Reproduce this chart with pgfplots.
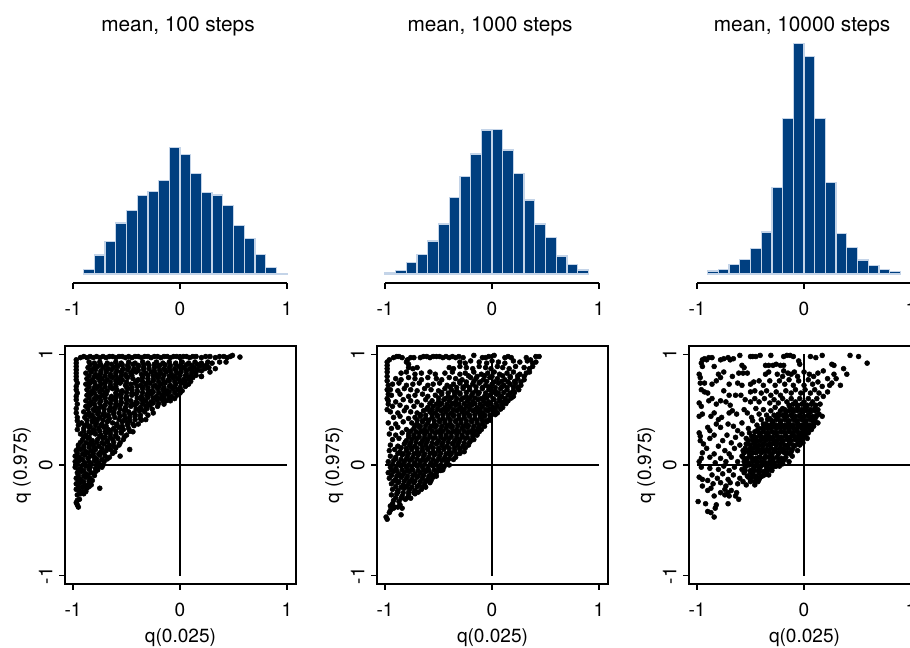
\documentclass[border=0pt]{standalone}
\usepackage{fontspec}
\setmainfont{TeX Gyre Heros}
\usepackage{pgfplots}
\pgfplotsset{compat=1.18}
\definecolor{barblue}{HTML}{003F80}
\definecolor{baredge}{HTML}{C4D4E8}
\pgfplotsset{
 hist/.style={scale only axis,width=160.5pt,height=189.75pt,anchor=south west,
  xmin=-1,xmax=1,ymin=-9,ymax=244,clip=false,
  axis y line=none,axis x line*=bottom,axis line style={line width=1.1pt,-},
  xtick={-1,0,1},xticklabels={-1,0,1},
  tick style={black,line width=1.1pt},tick align=outside,major tick length=4.5pt,
  xticklabel style={anchor=base,yshift=-20pt,font=\fontsize{14.3}{16}\selectfont},
  title style={at={(axis description cs:0.5,1)},anchor=base,yshift=-7pt,xshift=-1.5pt,font=\fontsize{15.6}{18}\selectfont},
 },
 bars/.style={ybar interval,fill=barblue,draw=baredge,line width=1pt},
 scat/.style={scale only axis,width=173.25pt,height=178.5pt,anchor=south west,
  xmin=-1.075,xmax=1.084,ymin=-1.075,ymax=1.075,clip=true,
  axis line style={line width=1.1pt},
  xtick={-1,0,1},xticklabels={-1,0,1},ytick={-1,0,1},yticklabels={-1,0,1},
  tick style={black,line width=1.1pt},tick align=outside,major tick length=4.5pt,
  xtick pos=bottom,ytick pos=left,
  xticklabel style={anchor=base,yshift=-20pt,font=\fontsize{14.3}{16}\selectfont},
  yticklabel style={rotate=90,anchor=base,yshift=5pt,font=\fontsize{14.3}{16}\selectfont},
  xlabel={q(0.025)},ylabel={q (0.975)},
  xlabel style={at={(axis description cs:0.5,0)},anchor=base,yshift=-44.25pt,font=\fontsize{14.3}{16}\selectfont},
  ylabel style={at={(axis description cs:0,0.5)},rotate=0,anchor=base,yshift=28.5pt,font=\fontsize{14.3}{16}\selectfont},
 },
 dots/.style={only marks,mark=*,mark size=1.85pt,mark options={fill=black,draw=none},black},
 cross/.style={black,line width=.9pt},
}
\begin{document}
\begin{tikzpicture}
\path[use as bounding box] (0,0) rectangle (682.5pt,486pt);
\begin{axis}[hist,at={(54.75pt,273.75pt)},title={mean, 100 steps}]
\addplot[bars] coordinates {(-.9,4.7)(-.8,19)(-.7,32.7)(-.6,51)(-.5,63.3)(-.4,78.3)(-.3,82.3)(-.2,93.3)(-.1,126.7)(0,119.3)(.1,100.7)(.2,81.7)(.3,79)(.4,68.7)(.5,48.7)(.6,35.3)(.7,19.3)(.8,6.7)(.9,.7)(1,.7)};
\end{axis}
\begin{axis}[hist,at={(288.75pt,273.75pt)},title={mean, 1000 steps}]
\addplot[bars] coordinates {(-1,1)(-.9,3.7)(-.8,11.7)(-.7,19.7)(-.6,33)(-.5,50)(-.4,76.7)(-.3,97.3)(-.2,120)(-.1,144)(0,144.3)(.1,124)(.2,100.7)(.3,74)(.4,50)(.5,36.7)(.6,18)(.7,9.7)(.8,4)(.9,4)};
\end{axis}
\begin{axis}[hist,at={(522.75pt,273.75pt)},title={mean, 10000 steps}]
\addplot[bars] coordinates {(-.9,3)(-.8,4.7)(-.7,9.7)(-.6,14.7)(-.5,25.3)(-.4,42)(-.3,86.3)(-.2,155.3)(-.1,230.3)(0,217.3)(.1,155.3)(.2,91.7)(.3,40.7)(.4,26.7)(.5,14)(.6,8.7)(.7,4.7)(.8,2.7)(.9,2.7)};
\end{axis}
\begin{axis}[scat,at={(48.75pt,48pt)}]
\addplot[cross] coordinates {(-1,0)(1,0)};
\addplot[cross] coordinates {(0,-1)(0,1)};
\addplot[dots] coordinates {
(-.93,.97)(-.9,.98)(-.87,.97)(-.84,.98)(-.81,.97)(-.78,.98)(-.75,.97)(-.72,.98)(-.69,.97)(-.66,.98)(-.63,.98)(-.6,.97)(-.57,.98)(-.54,.98)(-.51,.97)(-.48,.98)(-.45,.97)(-.42,.98)(-.39,.98)(-.36,.97)(-.33,.98)(-.3,.98)(-.27,.97)(-.24,.98)(-.21,.98)(-.18,.97)(-.15,.98)(-.12,.98)(-.09,.97)(-.06,.98)(-.03,.98)(0,.97)(.03,.98)(.06,.98)(.09,.97)(.12,.98)(.15,.98)(.2,.97)(.24,.98)(.28,.98)(.33,.97)(.37,.98)(.41,.98)(.44,.97)(.47,.98)(.49,.99)(.56,.975)
(-.97,.95)(-.97,.92)(-.97,.89)(-.97,.86)(-.97,.83)(-.97,.8)(-.97,.77)(-.96,.74)(-.97,.71)(-.97,.68)(-.96,.65)(-.97,.62)(-.97,.59)(-.96,.55)(-.97,.51)(-.97,.47)(-.96,.43)(-.96,.4)(-.95,.36)(-.96,.32)
(-.85,.93)(-.8,.92)(-.75,.93)(-.68,.92)(-.6,.93)(-.55,.92)(-.48,.93)(-.42,.92)(-.35,.93)(-.3,.92)(-.22,.93)(-.16,.92)(-.1,.93)(-.04,.92)(.02,.93)(.08,.92)(.14,.93)(.2,.92)(.26,.93)(.3,.92)(.37,.93)(.43,.93)
(-.86,.88)(-.81,.87)(-.77,.89)(-.72,.88)(-.67,.87)(-.62,.88)(-.58,.89)(-.53,.87)(-.48,.88)(-.43,.87)(-.39,.89)(-.34,.88)(-.29,.87)(-.24,.88)(-.2,.89)(-.15,.87)(-.1,.88)(-.05,.87)(-.01,.89)(.04,.88)(.09,.87)(.13,.88)(.18,.89)(.23,.87)(.27,.88)
(-.88,.83)(-.83,.84)(-.79,.82)(-.74,.83)(-.69,.84)(-.65,.82)(-.6,.83)(-.55,.84)(-.51,.82)(-.46,.83)(-.41,.84)(-.36,.82)(-.32,.83)(-.27,.84)(-.22,.82)(-.18,.83)(-.13,.84)(-.08,.82)(-.03,.83)(.01,.84)(.06,.82)(.11,.83)(.15,.84)(.2,.8)
(-.87,.78)(-.82,.77)(-.77,.79)(-.73,.78)(-.68,.77)(-.63,.79)(-.58,.78)(-.54,.77)(-.49,.79)(-.44,.78)(-.39,.77)(-.35,.79)(-.3,.78)(-.25,.77)(-.21,.79)(-.16,.78)(-.11,.77)(-.07,.79)(-.02,.78)(.03,.77)(.08,.78)(.12,.79)
(-.88,.73)(-.84,.74)(-.79,.72)(-.74,.73)(-.7,.74)(-.65,.72)(-.6,.73)(-.56,.74)(-.51,.72)(-.46,.73)(-.42,.74)(-.37,.72)(-.32,.73)(-.28,.74)(-.23,.72)(-.18,.73)(-.14,.74)(-.09,.72)(-.04,.73)(.01,.74)(.05,.72)(.08,.73)
(-.87,.68)(-.82,.67)(-.78,.69)(-.73,.68)(-.68,.67)(-.63,.69)(-.59,.68)(-.54,.67)(-.49,.69)(-.45,.68)(-.4,.67)(-.35,.69)(-.3,.68)(-.26,.67)(-.21,.69)(-.16,.68)(-.12,.67)(-.07,.69)(-.02,.68)(.02,.67)
(-.87,.63)(-.83,.64)(-.78,.62)(-.73,.63)(-.69,.64)(-.64,.62)(-.59,.63)(-.55,.64)(-.5,.62)(-.45,.63)(-.41,.64)(-.36,.62)(-.31,.63)(-.27,.64)(-.22,.62)(-.17,.63)(-.12,.64)(-.08,.62)(-.03,.63)
(-.88,.58)(-.83,.57)(-.79,.59)(-.74,.58)(-.69,.57)(-.64,.59)(-.6,.58)(-.55,.57)(-.5,.59)(-.46,.58)(-.41,.57)(-.36,.59)(-.32,.58)(-.27,.57)(-.22,.59)(-.17,.6)(-.13,.58)(-.09,.58)(-.16,.58)
(-.88,.53)(-.84,.54)(-.79,.52)(-.74,.53)(-.7,.54)(-.65,.52)(-.6,.53)(-.56,.54)(-.51,.52)(-.46,.53)(-.42,.54)(-.37,.52)(-.32,.53)(-.28,.54)(-.21,.53)
(-.9,.48)(-.85,.47)(-.8,.49)(-.76,.48)(-.71,.47)(-.66,.49)(-.62,.48)(-.57,.47)(-.52,.49)(-.48,.48)(-.43,.47)(-.38,.49)(-.33,.48)(-.25,.47)
(-.89,.43)(-.84,.44)(-.8,.42)(-.75,.43)(-.7,.44)(-.66,.42)(-.61,.43)(-.56,.44)(-.51,.42)(-.47,.43)(-.42,.44)(-.37,.42)(-.32,.41)
(-.92,.38)(-.87,.37)(-.82,.39)(-.78,.38)(-.73,.37)(-.68,.39)(-.63,.38)(-.59,.37)(-.54,.39)(-.49,.38)(-.44,.37)(-.39,.37)
(-.9,.33)(-.85,.34)(-.81,.32)(-.76,.33)(-.71,.34)(-.67,.32)(-.62,.33)(-.57,.34)(-.53,.32)(-.48,.33)(-.44,.3)
(-.93,.28)(-.88,.27)(-.83,.29)(-.79,.28)(-.74,.27)(-.69,.29)(-.65,.28)(-.6,.27)(-.55,.29)(-.5,.27)
(-.91,.23)(-.86,.24)(-.82,.22)(-.77,.23)(-.72,.24)(-.68,.22)(-.63,.23)(-.58,.24)(-.53,.23)(-.47,.14)
(-.95,.18)(-.9,.17)(-.85,.19)(-.81,.18)(-.76,.17)(-.71,.19)(-.66,.18)(-.62,.17)(-.57,.18)(-.56,.08)
(-.97,.13)(-.93,.14)(-.88,.12)(-.83,.13)(-.79,.14)(-.74,.12)(-.69,.13)(-.65,.14)(-.61,.12)
(-.98,.08)(-.94,.07)(-.89,.09)(-.84,.08)(-.8,.07)(-.75,.09)(-.7,.08)(-.66,.07)
(-.98,.03)(-.94,.04)(-.89,.02)(-.85,.03)(-.8,.04)(-.76,.02)(-.71,.03)
(-.98,-.02)(-.93,-.03)(-.88,-.01)(-.84,-.02)(-.79,-.03)(-.75,-.01)(-.73,-.02)
(-.96,-.07)(-.92,-.06)(-.88,-.08)(-.83,-.07)(-.79,-.06)(-.9,-.1)
(-.97,-.12)(-.93,-.13)(-.88,-.11)(-.84,-.12)(-.82,-.14)
(-.97,-.17)(-.93,-.16)(-.89,-.18)(-.85,-.17)(-.83,-.18)(-.75,-.21)
(-.97,-.22)(-.94,-.23)(-.9,-.24)(-.87,-.21)(-.9,-.26)
(-.96,-.27)(-.93,-.26)(-.96,-.32)(-.94,-.31)(-.96,-.36)(-.95,-.38)(-.97,-.34)
(.05,.72)(.09,.79)(.2,.8)(.25,.88)(.33,.87)(.28,.84)
(-.84,.905)(-.79,.9)(-.74,.905)(-.69,.9)(-.64,.91)(-.59,.9)(-.54,.905)(-.49,.9)(-.44,.91)(-.39,.9)(-.34,.905)(-.29,.9)(-.24,.91)(-.19,.9)(-.14,.905)(-.09,.9)(-.04,.91)(.01,.9)(.06,.905)(.11,.9)(.16,.91)(.21,.9)(.25,.905)
(-.84,.855)(-.79,.86)(-.74,.85)(-.69,.855)(-.64,.86)(-.59,.85)(-.54,.855)(-.49,.86)(-.44,.85)(-.39,.855)(-.34,.86)(-.24,.85)(-.19,.855)(-.14,.86)(-.09,.85)(-.04,.855)(.01,.86)(.06,.85)(.11,.855)(.16,.86)(.2,.85)
(-.85,.805)(-.8,.8)(-.75,.81)(-.7,.805)(-.65,.8)(-.6,.81)(-.55,.805)(-.5,.8)(-.45,.81)(-.35,.8)(-.3,.81)(-.25,.805)(-.2,.8)(-.15,.81)(-.1,.805)(-.05,.8)(0,.81)(.05,.805)(.1,.8)(.15,.81)
(-.85,.755)(-.8,.75)(-.75,.76)(-.7,.755)(-.65,.75)(-.6,.76)(-.55,.755)(-.5,.75)(-.4,.76)(-.35,.755)(-.3,.75)(-.25,.76)(-.2,.755)(-.15,.75)(-.1,.76)(-.05,.755)(0,.75)(.05,.76)(.1,.755)
(-.85,.705)(-.8,.7)(-.75,.71)(-.7,.705)(-.65,.7)(-.6,.71)(-.5,.705)(-.45,.7)(-.4,.71)(-.35,.705)(-.3,.7)(-.25,.71)(-.2,.705)(-.15,.7)(-.1,.71)(-.05,.705)(0,.7)(.05,.71)
(-.85,.655)(-.8,.65)(-.75,.66)(-.7,.655)(-.6,.65)(-.55,.66)(-.5,.655)(-.45,.65)(-.4,.66)(-.35,.655)(-.3,.65)(-.25,.66)(-.2,.655)(-.15,.65)(-.1,.66)(-.05,.655)(0,.65)
(-.85,.605)(-.8,.6)(-.75,.61)(-.7,.605)(-.65,.6)(-.6,.61)(-.55,.605)(-.5,.6)(-.4,.605)(-.35,.6)(-.3,.61)(-.25,.605)(-.2,.6)(-.15,.61)(-.1,.605)(-.05,.6)
(-.85,.555)(-.8,.55)(-.75,.56)(-.65,.555)(-.6,.55)(-.55,.56)(-.5,.555)(-.45,.55)(-.4,.56)(-.35,.555)(-.3,.55)(-.25,.56)(-.2,.555)(-.15,.55)
(-.86,.505)(-.81,.5)(-.76,.51)(-.71,.505)(-.66,.5)(-.61,.51)(-.56,.505)(-.51,.5)(-.41,.505)(-.36,.5)(-.31,.51)(-.26,.505)
(-.87,.455)(-.82,.45)(-.77,.46)(-.72,.455)(-.67,.45)(-.62,.46)(-.52,.45)(-.47,.46)(-.42,.455)(-.37,.45)(-.3,.45)
(-.87,.405)(-.82,.4)(-.77,.41)(-.72,.405)(-.67,.4)(-.57,.41)(-.52,.405)(-.47,.4)(-.42,.41)(-.36,.405)
(-.89,.355)(-.84,.35)(-.79,.36)(-.74,.355)(-.69,.35)(-.59,.355)(-.54,.35)(-.49,.36)(-.43,.355)
(-.9,.305)(-.85,.3)(-.8,.31)(-.75,.305)(-.7,.3)(-.65,.31)(-.6,.305)(-.55,.3)(-.47,.305)
(-.9,.255)(-.85,.25)(-.75,.26)(-.7,.255)(-.65,.25)(-.6,.26)(-.52,.255)
(-.93,.205)(-.88,.2)(-.83,.21)(-.78,.205)(-.73,.2)(-.68,.21)(-.62,.205)(-.56,.2)
(-.95,.155)(-.9,.15)(-.85,.16)(-.8,.155)(-.73,.15)(-.68,.16)(-.6,.155)
(-.96,.105)(-.91,.1)(-.86,.11)(-.81,.105)(-.76,.1)(-.71,.11)(-.63,.105)
(-.96,.055)(-.91,.05)(-.86,.06)(-.78,.055)(-.73,.05)(-.68,.055)
(-.96,.005)(-.91,0)(-.83,.01)(-.78,.005)(-.72,0)
(-.95,-.045)(-.9,-.05)(-.85,-.04)(-.77,-.045)
(-.95,-.095)(-.86,-.09)(-.8,-.095)
(-.95,-.145)(-.9,-.15)(-.85,-.145)
(-.95,-.195)(-.91,-.2)(-.85,-.195)
(-.93,-.245)(-.88,-.24)
};
\end{axis}
\begin{axis}[scat,at={(282.75pt,48pt)}]
\addplot[cross] coordinates {(-1,0)(1,0)};
\addplot[cross] coordinates {(0,-1)(0,1)};
\addplot[dots] coordinates {
(-.92,.97)(-.89,.98)(-.87,.98)(-.84,.97)(-.79,.95)(-.76,.97)(-.73,.97)(-.67,.97)(-.64,.98)(-.61,.98)(-.58,.97)(-.55,.98)(-.52,.98)(-.49,.98)(-.46,.97)(-.43,.98)(-.4,.97)(-.37,.98)(-.34,.97)(-.31,.98)(-.27,.97)(-.17,.99)(-.09,.97)(-.06,.97)(-.03,.98)(.02,.99)(.12,.97)(.15,.98)(.18,.97)(.32,.97)(.36,.95)(.41,.98)(.44,.98)
(-.98,.93)(-.98,.9)(-.98,.87)(-.98,.84)(-.98,.8)(-.98,.76)(-.97,.72)(-.98,.68)(-.97,.64)(-.98,.6)(-.97,.55)(-.98,.5)(-.96,.95)
(-.8,.93)(-.78,.91)(-.3,.93)(-.25,.92)(-.2,.94)(-.12,.93)(-.05,.92)(0,.94)(.06,.93)(.12,.92)(.2,.94)(.26,.93)(.33,.94)(.38,.92)(.41,.93)
(-.78,.88)(-.74,.87)(-.7,.88)(-.4,.88)(-.36,.87)(-.3,.89)(-.24,.88)(-.18,.87)(-.12,.89)(-.06,.88)(-.01,.87)(.05,.89)(.1,.88)(.16,.87)(.22,.89)(.3,.88)(.35,.87)(.38,.89)
(-.85,.83)(-.8,.84)(-.72,.82)(-.66,.83)(-.58,.84)(-.53,.82)(-.44,.83)(-.37,.84)(-.3,.82)(-.25,.83)(-.17,.84)(-.1,.82)(-.04,.83)(.02,.84)(.07,.82)(.14,.83)(.2,.84)(.26,.82)(.32,.83)(.35,.84)
(-.9,.78)(-.85,.77)(-.78,.79)(-.72,.78)(-.66,.77)(-.6,.79)(-.52,.78)(-.47,.77)(-.4,.79)(-.34,.78)(-.28,.77)(-.2,.79)(-.15,.78)(-.08,.77)(-.02,.79)(.05,.78)(.12,.77)(.17,.79)(.24,.78)(.3,.77)
(-.93,.73)(-.87,.74)(-.8,.72)(-.74,.73)(-.68,.74)(-.6,.72)(-.55,.73)(-.49,.74)(-.42,.72)(-.36,.73)(-.3,.74)(-.24,.72)(-.18,.73)(-.12,.74)(-.06,.72)(0,.73)(.06,.74)(.11,.72)(.17,.73)(.22,.74)(.27,.72)
(-.95,.68)(-.88,.67)(-.82,.69)(-.76,.68)(-.7,.67)(-.63,.69)(-.57,.68)(-.5,.67)(-.44,.69)(-.38,.68)(-.33,.67)(-.27,.69)(-.21,.68)(-.15,.67)(-.09,.69)(-.03,.68)(.03,.67)(.08,.69)(.14,.68)(.2,.67)(.25,.68)
(-.94,.63)(-.86,.64)(-.78,.62)(-.72,.63)(-.65,.64)(-.6,.62)(-.53,.63)(-.47,.64)(-.41,.62)(-.35,.63)(-.3,.64)(-.24,.62)(-.19,.63)(-.13,.64)(-.07,.62)(-.02,.63)(.04,.64)(.09,.62)(.15,.63)(.2,.62)
(-.97,.58)(-.9,.57)(-.83,.59)(-.76,.58)(-.7,.57)(-.62,.59)(-.56,.58)(-.5,.57)(-.45,.59)(-.4,.58)(-.34,.57)(-.29,.59)(-.23,.58)(-.18,.57)(-.13,.59)(-.08,.58)(-.03,.57)(.02,.59)(.07,.58)(.11,.57)(.15,.58)
(-.93,.53)(-.86,.54)(-.8,.52)(-.73,.53)(-.66,.54)(-.6,.52)(-.55,.53)(-.49,.54)(-.44,.52)(-.39,.53)(-.34,.54)(-.29,.52)(-.24,.53)(-.19,.54)(-.14,.52)(-.09,.53)(-.04,.54)(.01,.52)(.05,.53)(.1,.52)
(-.95,.48)(-.88,.47)(-.82,.49)(-.76,.48)(-.7,.47)(-.64,.49)(-.58,.48)(-.53,.47)(-.48,.49)(-.43,.48)(-.38,.47)(-.33,.49)(-.28,.48)(-.23,.47)(-.18,.49)(-.13,.48)(-.09,.47)(-.04,.49)(.01,.48)(.05,.47)
(-.92,.43)(-.86,.44)(-.78,.42)(-.72,.43)(-.67,.44)(-.62,.42)(-.56,.43)(-.51,.44)(-.46,.42)(-.41,.43)(-.36,.44)(-.31,.42)(-.26,.43)(-.21,.44)(-.16,.42)(-.11,.43)(-.07,.44)(-.02,.42)
(-.97,.38)(-.9,.37)(-.83,.39)(-.75,.38)(-.7,.37)(-.65,.39)(-.6,.38)(-.54,.37)(-.49,.39)(-.44,.38)(-.39,.37)(-.34,.39)(-.29,.38)(-.24,.37)(-.19,.39)(-.14,.38)(-.09,.37)(-.05,.39)
(-.94,.33)(-.88,.34)(-.8,.32)(-.73,.33)(-.68,.34)(-.63,.32)(-.58,.33)(-.53,.34)(-.48,.32)(-.43,.33)(-.38,.34)(-.33,.32)(-.28,.33)(-.23,.34)(-.18,.32)(-.13,.33)(-.1,.32)
(-.96,.28)(-.9,.27)(-.84,.29)(-.78,.28)(-.73,.27)(-.68,.29)(-.63,.28)(-.58,.27)(-.53,.29)(-.48,.28)(-.43,.27)(-.38,.29)(-.33,.28)(-.28,.27)(-.23,.29)(-.18,.28)(-.14,.27)
(-.93,.23)(-.87,.24)(-.8,.22)(-.75,.23)(-.7,.24)(-.65,.22)(-.6,.23)(-.55,.24)(-.5,.22)(-.45,.23)(-.4,.24)(-.35,.22)(-.3,.23)(-.25,.24)(-.2,.22)(-.17,.23)
(-.95,.18)(-.88,.17)(-.82,.19)(-.77,.18)(-.72,.17)(-.67,.19)(-.62,.18)(-.57,.17)(-.52,.19)(-.47,.18)(-.42,.17)(-.37,.19)(-.32,.18)(-.27,.17)(-.22,.18)
(-.96,.13)(-.91,.14)(-.86,.12)(-.8,.13)(-.75,.14)(-.7,.12)(-.65,.13)(-.6,.14)(-.55,.12)(-.5,.13)(-.45,.14)(-.4,.12)(-.35,.13)(-.3,.14)(-.26,.12)
(-.95,.08)(-.9,.07)(-.84,.09)(-.79,.08)(-.74,.07)(-.69,.09)(-.64,.08)(-.59,.07)(-.54,.09)(-.49,.08)(-.44,.07)(-.39,.09)(-.34,.07)
(-.97,.03)(-.92,.04)(-.87,.02)(-.82,.03)(-.77,.04)(-.72,.02)(-.67,.03)(-.62,.04)(-.57,.02)(-.52,.03)(-.47,.04)(-.42,.03)
(-.95,-.02)(-.9,-.03)(-.85,-.01)(-.8,-.02)(-.75,-.03)(-.7,-.01)(-.65,-.02)(-.6,-.03)(-.55,-.01)(-.5,-.02)(-.45,-.02)
(-.97,-.07)(-.92,-.06)(-.87,-.08)(-.82,-.07)(-.77,-.06)(-.72,-.08)(-.67,-.07)(-.62,-.06)(-.57,-.08)(-.52,-.07)(-.48,-.05)
(-.96,-.12)(-.9,-.13)(-.85,-.11)(-.8,-.12)(-.75,-.13)(-.7,-.11)(-.65,-.12)(-.6,-.13)(-.55,-.11)(-.52,-.1)
(-.94,-.17)(-.88,-.16)(-.83,-.18)(-.78,-.17)(-.73,-.16)(-.68,-.18)(-.63,-.17)(-.58,-.16)
(-.93,-.22)(-.88,-.23)(-.82,-.21)(-.77,-.22)(-.72,-.23)(-.66,-.22)(-.62,-.2)
(-.94,-.27)(-.89,-.26)(-.84,-.28)(-.78,-.27)(-.72,-.26)
(-.92,-.32)(-.87,-.33)(-.81,-.31)(-.76,-.3)
(-.95,-.37)(-.91,-.38)(-.86,-.36)(-.93,-.35)(-.88,-.38)(-.84,-.39)
(-.95,-.41)(-.92,-.39)(-.99,-.47)(-.98,-.49)(-.85,-.45)(-.96,-.43)
(-.22,.805)(-.14,.8)(-.07,.805)(0,.8)(.1,.805)(.17,.8)(.24,.805)(.3,.8)
(-.3,.755)(-.24,.75)(-.17,.755)(-.11,.75)(-.05,.755)(.02,.75)(.09,.755)(.15,.75)(.21,.755)(.27,.75)
(-.39,.705)(-.33,.7)(-.27,.705)(-.21,.7)(-.15,.705)(-.09,.7)(-.03,.705)(.03,.7)(.09,.705)(.14,.7)(.2,.705)(.24,.7)
(-.47,.655)(-.41,.65)(-.35,.655)(-.3,.65)(-.24,.655)(-.18,.65)(-.12,.655)(-.06,.65)(0,.655)(.06,.65)(.11,.655)(.17,.65)(.21,.655)
(-.5,.605)(-.44,.6)(-.38,.605)(-.33,.6)(-.27,.605)(-.21,.6)(-.16,.605)(-.1,.6)(-.05,.605)(.01,.6)(.07,.605)(.12,.6)(.18,.605)
(-.58,.555)(-.52,.55)(-.47,.555)(-.42,.55)(-.37,.555)(-.31,.55)(-.26,.555)(-.21,.55)(-.16,.555)(-.11,.55)(-.06,.555)(-.01,.55)(.04,.555)(.09,.55)(.13,.555)
(-.61,.505)(-.56,.5)(-.51,.505)(-.46,.5)(-.41,.505)(-.36,.5)(-.31,.505)(-.26,.5)(-.21,.505)(-.16,.5)(-.11,.505)(-.06,.5)(-.02,.505)(.03,.5)(.08,.505)
(-.67,.455)(-.62,.45)(-.56,.455)(-.51,.45)(-.46,.455)(-.41,.45)(-.36,.455)(-.31,.45)(-.26,.455)(-.21,.45)(-.16,.455)(-.11,.45)(-.07,.455)(-.02,.45)(.03,.455)
(-.7,.405)(-.65,.4)(-.59,.405)(-.54,.4)(-.49,.405)(-.44,.4)(-.39,.405)(-.34,.4)(-.29,.405)(-.24,.4)(-.19,.405)(-.14,.4)(-.09,.405)(-.05,.4)(-.02,.405)
(-.72,.355)(-.67,.35)(-.62,.355)(-.57,.35)(-.52,.355)(-.47,.35)(-.42,.355)(-.37,.35)(-.32,.355)(-.27,.35)(-.22,.355)(-.17,.35)(-.12,.355)(-.07,.35)
(-.76,.305)(-.71,.3)(-.66,.305)(-.61,.3)(-.56,.305)(-.51,.3)(-.46,.305)(-.41,.3)(-.36,.305)(-.31,.3)(-.26,.305)(-.21,.3)(-.16,.305)(-.12,.3)
(-.78,.255)(-.73,.25)(-.68,.255)(-.63,.25)(-.58,.255)(-.53,.25)(-.48,.255)(-.43,.25)(-.38,.255)(-.33,.25)(-.28,.255)(-.23,.25)(-.18,.255)
(-.81,.205)(-.76,.2)(-.71,.205)(-.66,.2)(-.61,.205)(-.56,.2)(-.51,.205)(-.46,.2)(-.41,.205)(-.36,.2)(-.31,.205)(-.26,.2)(-.21,.205)
(-.85,.155)(-.8,.15)(-.75,.155)(-.7,.15)(-.65,.155)(-.6,.15)(-.55,.155)(-.5,.15)(-.45,.155)(-.4,.15)(-.35,.155)(-.3,.15)(-.25,.155)
(-.88,.105)(-.83,.1)(-.78,.105)(-.73,.1)(-.68,.105)(-.63,.1)(-.58,.105)(-.53,.1)(-.48,.105)(-.43,.1)(-.38,.105)(-.33,.1)(-.3,.105)
(-.9,.055)(-.85,.05)(-.8,.055)(-.75,.05)(-.7,.055)(-.65,.05)(-.6,.055)(-.55,.05)(-.5,.055)(-.45,.05)(-.4,.055)(-.36,.05)
(-.93,.005)(-.88,0)(-.83,.005)(-.78,0)(-.73,.005)(-.68,0)(-.63,.005)(-.58,0)(-.53,.005)(-.48,0)(-.43,.005)(-.4,0)
(-.94,-.045)(-.89,-.05)(-.84,-.045)(-.79,-.05)(-.74,-.045)(-.69,-.05)(-.64,-.045)(-.59,-.05)(-.54,-.045)(-.5,-.05)(-.46,-.045)
(-.94,-.095)(-.89,-.1)(-.84,-.095)(-.79,-.1)(-.74,-.095)(-.69,-.1)(-.64,-.095)(-.59,-.1)(-.54,-.095)
(-.92,-.145)(-.87,-.15)(-.82,-.145)(-.77,-.15)(-.72,-.145)(-.67,-.15)(-.62,-.145)(-.57,-.14)
(-.9,-.195)(-.85,-.2)(-.8,-.195)(-.75,-.2)(-.7,-.195)(-.65,-.2)
(-.88,-.245)(-.83,-.25)(-.78,-.245)(-.73,-.25)(-.69,-.245)
(-.9,-.295)(-.85,-.3)(-.79,-.295)
};
\end{axis}
\begin{axis}[scat,at={(516.75pt,48pt)}]
\addplot[cross] coordinates {(-1,0)(1,0)};
\addplot[cross] coordinates {(0,-1)(0,1)};
\addplot[dots] coordinates {
(-.95,.95)(-.93,.96)(-.91,.95)(-.89,.97)(-.86,.97)(-.78,.95)(-.75,.96)(-.71,.97)(-.69,.95)(-.66,.96)(-.6,.99)(-.5,.98)(-.48,.98)(-.45,.98)(-.41,.99)(-.31,.99)(-.19,.98)(-.16,.99)(-.13,.99)(-.1,.98)(-.05,.94)(.06,.98)(.11,.97)(.17,.99)(.43,.99)(.51,.98)(.59,.92)
(-.96,.92)(-.95,.89)(-.84,.89)(-.58,.9)(-.56,.88)(-.36,.9)(-.33,.9)(-.29,.9)(-.26,.91)(-.22,.9)(-.19,.9)(-.04,.91)(.18,.85)(.26,.91)(.28,.9)(.37,.87)(.4,.82)
(-.98,.82)(-.97,.79)(-.8,.82)(-.78,.79)(-.75,.84)(-.67,.8)(-.61,.83)(-.57,.83)(-.53,.83)(-.36,.82)(-.33,.84)(-.25,.82)(-.2,.8)(-.19,.85)(-.15,.83)(-.12,.82)(-.09,.84)(-.06,.8)(0,.84)(.05,.82)(.09,.8)(.13,.83)(.28,.82)(.3,.78)(.22,.78)
(-.97,.74)(-.93,.74)(-.86,.73)(-.82,.76)(-.7,.73)(-.62,.74)(-.58,.72)(-.5,.73)(-.47,.75)(-.42,.76)(-.38,.72)(-.32,.76)(-.27,.72)(-.23,.76)(-.18,.73)(-.14,.77)(-.1,.72)(-.05,.76)(0,.72)(.04,.77)(.08,.73)(.13,.75)(.17,.71)(.24,.72)(.26,.74)(.34,.72)
(-.96,.68)(-.93,.66)(-.9,.65)(-.75,.67)(-.7,.63)(-.64,.63)(-.59,.63)(-.5,.66)(-.46,.67)(-.4,.65)(-.35,.67)(-.31,.63)(-.26,.66)(-.22,.63)(-.17,.67)(-.12,.65)(-.08,.68)(-.03,.65)(.01,.68)(.06,.65)(.1,.68)(.14,.65)(.18,.62)(.22,.66)
(-.98,.56)(-.96,.53)(-.89,.58)(-.86,.6)(-.82,.55)(-.78,.58)(-.73,.57)(-.69,.54)(-.55,.59)(-.5,.57)(-.46,.6)(-.42,.57)(-.37,.6)(-.32,.56)(-.28,.59)(-.24,.56)(-.2,.6)(-.16,.57)(-.12,.6)(-.08,.57)(-.04,.6)(0,.57)(.04,.6)(.08,.57)(.12,.6)(.15,.55)
(-.98,.44)(-.95,.46)(-.87,.44)(-.84,.47)(-.8,.41)(-.77,.43)(-.7,.47)(-.67,.49)(-.63,.46)(-.56,.5)(-.53,.47)(-.49,.43)(-.45,.51)(-.42,.46)(-.38,.5)(-.35,.45)(-.31,.49)(-.27,.52)(-.24,.46)(-.2,.51)(-.17,.47)(-.13,.52)(-.1,.48)(-.06,.52)(-.02,.48)(.02,.52)(.06,.48)(.1,.51)(.14,.46)(.17,.44)
(-.98,.29)(-.97,.26)(-.9,.34)(-.88,.31)(-.82,.37)(-.78,.34)(-.71,.37)(-.66,.35)(-.62,.31)(-.58,.38)(-.52,.33)(-.48,.4)(-.44,.36)(-.4,.41)(-.36,.37)(-.32,.42)(-.29,.38)(-.25,.43)(-.22,.38)(-.18,.43)(-.15,.39)(-.11,.44)(-.08,.4)(-.04,.44)(0,.4)(.04,.44)(.08,.4)(.11,.43)(.13,.38)
(-.97,.22)(-.94,.19)(-.88,.24)(-.84,.27)(-.76,.22)(-.72,.27)(-.68,.2)(-.64,.25)(-.58,.28)(-.54,.24)(-.51,.29)(-.47,.26)(-.44,.31)(-.41,.27)(-.38,.32)(-.35,.28)(-.31,.33)(-.28,.29)(-.25,.34)(-.21,.3)(-.18,.35)(-.14,.31)(-.11,.36)(-.07,.32)(-.04,.36)(0,.32)(.03,.36)(.07,.32)(.09,.35)
(-.95,.11)(-.91,.15)(-.84,.1)(-.8,.17)(-.74,.13)(-.7,.1)(-.65,.15)(-.6,.18)(-.57,.13)(-.53,.19)(-.5,.15)(-.47,.21)(-.44,.17)(-.41,.22)(-.38,.18)(-.35,.23)(-.32,.19)(-.29,.24)(-.26,.2)(-.23,.25)(-.2,.21)(-.17,.26)(-.14,.22)(-.11,.27)(-.08,.23)(-.05,.27)(-.02,.23)(.01,.27)(.03,.24)
(-.98,.03)(-.96,.06)(-.88,.07)(-.83,.02)(-.78,.06)(-.73,.03)(-.68,.07)(-.62,.03)(-.58,.08)(-.55,.04)(-.51,.09)(-.48,.05)(-.45,.11)(-.42,.07)(-.39,.12)(-.36,.08)(-.33,.13)(-.3,.09)(-.27,.14)(-.24,.1)(-.21,.15)(-.18,.11)(-.15,.16)(-.12,.12)(-.09,.17)(-.06,.13)(-.04,.18)(-.01,.2)
(-.96,-.02)(-.88,-.03)(-.8,-.04)(-.75,-.01)(-.7,-.05)(-.65,-.02)(-.58,-.04)(-.54,-.01)(-.5,-.05)(-.47,-.01)(-.44,.03)(-.41,-.02)(-.38,.02)(-.35,-.03)(-.32,.01)(-.29,.05)(-.26,-.01)(-.23,.05)(-.2,.01)(-.17,.07)(-.14,.03)(-.11,.08)
(-.98,-.11)(-.95,-.13)(-.86,-.09)(-.81,-.12)(-.76,-.08)(-.71,-.13)(-.66,-.09)(-.6,-.12)(-.56,-.07)(-.52,-.11)(-.48,-.08)(-.45,-.12)(-.42,-.07)(-.39,-.1)(-.36,-.06)(-.33,-.09)(-.3,-.05)
(-.95,-.19)(-.9,-.14)(-.85,-.17)(-.78,-.16)(-.73,-.19)(-.69,-.16)(-.62,-.17)(-.57,-.15)(-.54,-.18)(-.5,-.15)(-.46,-.18)(-.43,-.15)
(-.9,-.23)(-.87,-.21)(-.78,-.25)(-.74,-.22)(-.71,-.25)(-.68,-.23)(-.63,-.25)
(-.84,-.28)(-.74,-.27)(-.7,-.28)(-.61,-.31)(-.64,-.28)
(-.99,-.33)(-.92,-.35)(-.82,-.36)(-.71,-.35)(-.9,-.42)(-.87,-.43)(-.84,-.47)(-.83,-.39)
(-.06,.54)(-.02,.55)(.03,.54)(.07,.55)(.11,.54)(-.14,.54)(-.1,.55)
(-.22,.49)(-.18,.5)(-.14,.49)(-.1,.5)(-.06,.49)(-.02,.5)(.02,.49)(.06,.5)(.1,.49)(.13,.5)
(-.28,.45)(-.24,.44)(-.2,.45)(-.16,.44)(-.12,.45)(-.08,.44)(-.04,.45)(0,.44)(.04,.45)(.08,.44)(.12,.45)
(-.34,.41)(-.3,.4)(-.26,.41)(-.22,.4)(-.18,.41)(-.14,.4)(-.1,.41)(-.06,.4)(-.02,.41)(.02,.4)(.06,.41)(.1,.4)
(-.38,.37)(-.34,.36)(-.3,.37)(-.26,.36)(-.22,.37)(-.18,.36)(-.14,.37)(-.1,.36)(-.06,.37)(-.02,.36)(.02,.37)(.05,.36)(.09,.37)
(-.42,.33)(-.38,.34)(-.34,.33)(-.3,.34)(-.26,.33)(-.22,.34)(-.18,.33)(-.14,.34)(-.1,.33)(-.06,.34)(-.02,.33)(.02,.34)(.05,.33)
(-.46,.3)(-.42,.29)(-.38,.3)(-.34,.29)(-.3,.3)(-.26,.29)(-.22,.3)(-.18,.29)(-.14,.3)(-.1,.29)(-.06,.3)(-.02,.29)(.02,.3)(.04,.29)
(-.49,.26)(-.45,.25)(-.41,.26)(-.37,.25)(-.33,.26)(-.29,.25)(-.25,.26)(-.21,.25)(-.17,.26)(-.13,.25)(-.09,.26)(-.05,.25)(-.01,.26)
(-.52,.22)(-.48,.23)(-.44,.22)(-.4,.23)(-.36,.22)(-.32,.23)(-.28,.22)(-.24,.23)(-.2,.22)(-.16,.23)(-.12,.22)(-.08,.23)(-.04,.22)
(-.54,.19)(-.5,.18)(-.46,.19)(-.42,.18)(-.38,.19)(-.34,.18)(-.3,.19)(-.26,.18)(-.22,.19)(-.18,.18)(-.14,.19)(-.1,.18)(-.06,.19)
(-.55,.15)(-.51,.14)(-.47,.15)(-.43,.14)(-.39,.15)(-.35,.14)(-.31,.15)(-.27,.14)(-.23,.15)(-.19,.14)(-.15,.15)(-.11,.14)
(-.56,.11)(-.52,.12)(-.48,.11)(-.44,.12)(-.4,.11)(-.36,.12)(-.32,.11)(-.28,.12)(-.24,.11)(-.2,.12)(-.16,.11)(-.13,.1)
(-.57,.07)(-.53,.06)(-.49,.07)(-.45,.06)(-.41,.07)(-.37,.06)(-.33,.07)(-.29,.06)(-.25,.07)(-.21,.06)(-.18,.05)
(-.56,.03)(-.52,.02)(-.48,.03)(-.44,.02)(-.4,.03)(-.36,.02)(-.32,.03)(-.28,.02)(-.24,.03)(-.2,.02)
(-.55,-.01)(-.51,0)(-.47,-.03)(-.43,-.01)(-.39,0)(-.35,-.01)(-.31,-.03)(-.27,-.01)(-.23,-.01)
(-.55,-.05)(-.5,-.07)(-.46,-.05)(-.42,-.04)(-.38,-.06)(-.34,-.05)(-.3,-.03)
(-.53,-.1)(-.49,-.11)(-.45,-.1)(-.41,-.11)(-.37,-.09)(-.35,-.08)
(-.5,-.14)(-.46,-.15)(-.42,-.13)
};
\end{axis}
\end{tikzpicture}
\end{document}
